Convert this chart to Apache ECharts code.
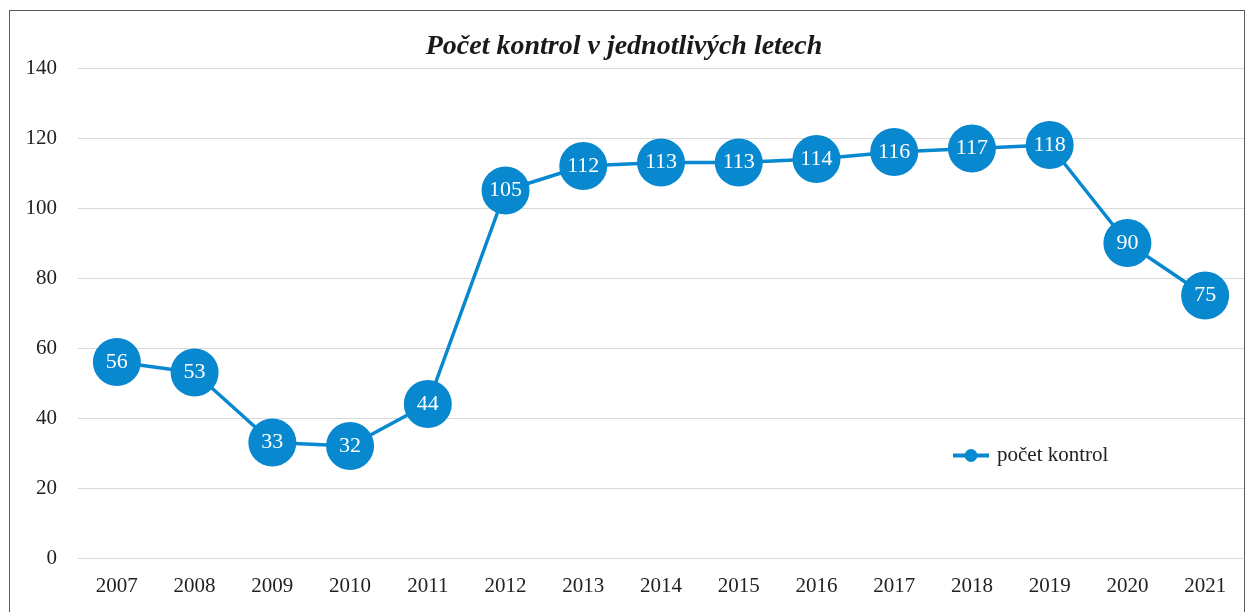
<!DOCTYPE html>
<html>
<head>
<meta charset="utf-8">
<script src="https://cdn.jsdelivr.net/npm/echarts@6/dist/echarts.min.js"></script>
<style>
  html, body { margin: 0; padding: 0; background: #fff; overflow: hidden; }
  #frame {
    position: absolute; left: 9px; top: 10px; width: 1236px; height: 640px;
    border: 1.5px solid #5a5a5a; box-sizing: border-box;
  }
  #chart { position: absolute; left: 0; top: 0; width: 1248px; height: 612px; }
</style>
</head>
<body>
<div id="frame"></div>
<div id="chart"></div>
<script>
// data
const years = ["2007", "2008", "2009", "2010", "2011", "2012", "2013", "2014",
  "2015", "2016", "2017", "2018", "2019", "2020", "2021"];
const pocetKontrol = [56, 53, 33, 32, 44, 105, 112, 113, 113, 114, 116, 117, 118, 90, 75];

const blue = "#0788cf";
const serif = "'Liberation Serif', 'DejaVu Serif', serif";

const chart = echarts.init(document.getElementById("chart"));
chart.setOption({
  animation: false,
  textStyle: { fontFamily: serif },
  title: {
    text: "Počet kontrol v jednotlivých letech",
    left: "center",
    top: 28,
    textStyle: {
      fontFamily: serif, fontSize: 28, fontStyle: "italic", fontWeight: "bold", color: "#1a1a1a"
    }
  },
  legend: {
    data: ["počet kontrol"],
    left: 946,
    top: 440,
    itemWidth: 36,
    itemHeight: 16,
    lineStyle: { width: 4 },
    textStyle: { fontFamily: serif, fontSize: 21, color: "#222", padding: [0, 0, 0, 3] }
  },
  grid: { left: 78, right: 4, top: 68, bottom: 54, containLabel: false },
  xAxis: {
    type: "category",
    data: years,
    boundaryGap: true,
    axisLine: { show: true, lineStyle: { color: "#d9d9d9", width: 1 } },
    axisTick: { show: false },
    axisLabel: { color: "#222", fontSize: 21, fontFamily: serif, margin: 18 }
  },
  yAxis: {
    type: "value",
    min: 0, max: 140, interval: 20,
    axisLine: { show: false },
    axisTick: { show: false },
    axisLabel: { color: "#222", fontSize: 21, fontFamily: serif, margin: 21 },
    splitLine: { lineStyle: { color: "#d9d9d9", width: 1 } }
  },
  series: [{
    name: "počet kontrol",
    type: "line",
    data: pocetKontrol,
    symbol: "circle",
    symbolSize: 48,
    itemStyle: { color: blue },
    lineStyle: { color: blue, width: 3.5 },
    label: {
      show: true,
      position: "inside",
      color: "#fff",
      fontFamily: serif,
      fontSize: 22
    }
  }]
});
</script>
</body>
</html>
